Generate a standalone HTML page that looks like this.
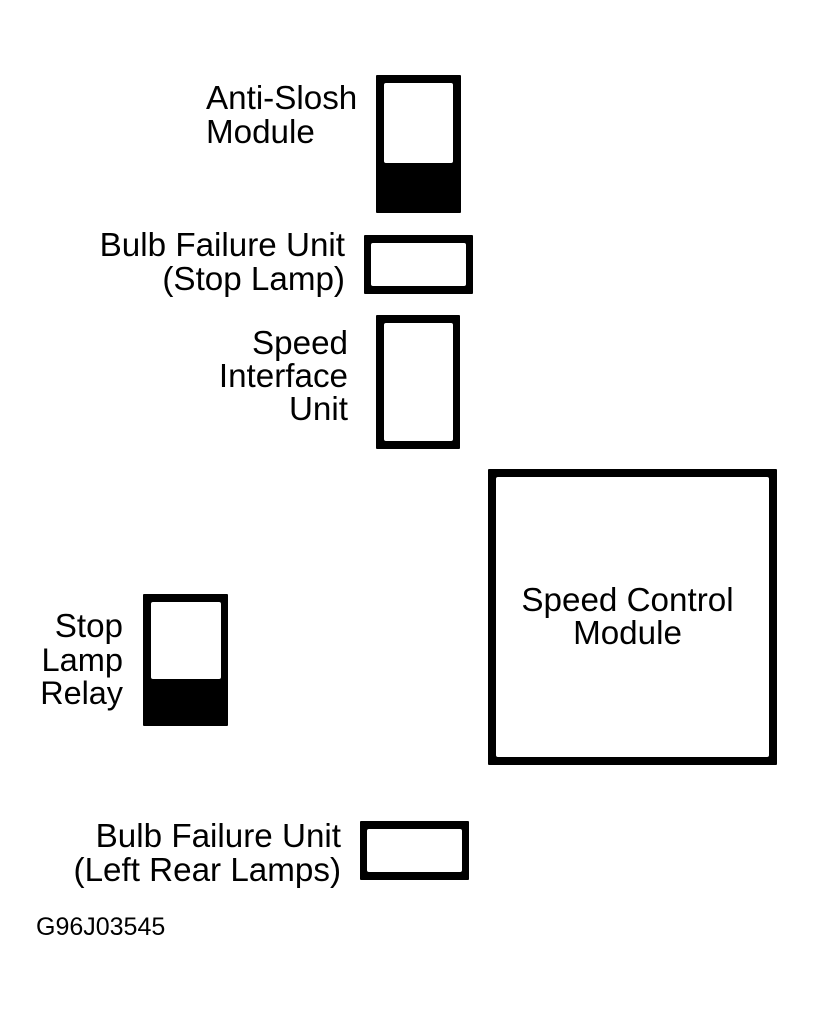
<!DOCTYPE html>
<html>
<head>
<meta charset="utf-8">
<style>
html,body{margin:0;padding:0;background:#fff}
body{width:814px;height:1010px;position:relative;overflow:hidden;font-family:"Liberation Sans",Arial,sans-serif;color:#000}
.k{position:absolute;background:#000;border-radius:1px}
.w{position:absolute;background:#fff;border-radius:2px}
.t{position:absolute;font-size:33.2px;line-height:33px;white-space:nowrap}
.r{text-align:right}
.c{text-align:center}
</style>
</head>
<body>
<div class="k" style="left:376px;top:75px;width:84.5px;height:138px"></div>
<div class="w" style="left:384px;top:83px;width:69px;height:80px"></div>

<div class="k" style="left:364px;top:235px;width:109px;height:59px"></div>
<div class="w" style="left:371px;top:243px;width:95px;height:43px"></div>

<div class="k" style="left:376px;top:315px;width:84px;height:134px"></div>
<div class="w" style="left:383.5px;top:323px;width:69px;height:118px"></div>

<div class="k" style="left:488px;top:469px;width:289px;height:296px"></div>
<div class="w" style="left:495.5px;top:477px;width:273px;height:280px"></div>

<div class="k" style="left:143px;top:594px;width:85px;height:132px"></div>
<div class="w" style="left:151px;top:602px;width:69.5px;height:77px"></div>

<div class="k" style="left:360px;top:821px;width:109px;height:59px"></div>
<div class="w" style="left:367px;top:829px;width:95px;height:43px"></div>

<div class="t" style="left:206px;top:82px;line-height:34px">Anti-Slosh<br>Module</div>
<div class="t r" style="right:469px;top:229px;line-height:34px">Bulb Failure Unit<br>(Stop Lamp)</div>
<div class="t r" style="right:466px;top:327px">Speed<br>Interface<br>Unit</div>
<div class="t c" style="left:488px;width:279px;top:584px">Speed Control<br>Module</div>
<div class="t r" style="right:691px;top:610px">Stop<br><span style="font-size:32.6px">Lamp</span><br><span style="font-size:32.4px">Relay</span></div>
<div class="t r" style="right:473px;top:820px;line-height:34px">Bulb Failure Unit<br>(Left Rear Lamps)</div>
<div class="t" style="left:36px;top:914px;font-size:25px;line-height:26px">G96J03545</div>
</body>
</html>
